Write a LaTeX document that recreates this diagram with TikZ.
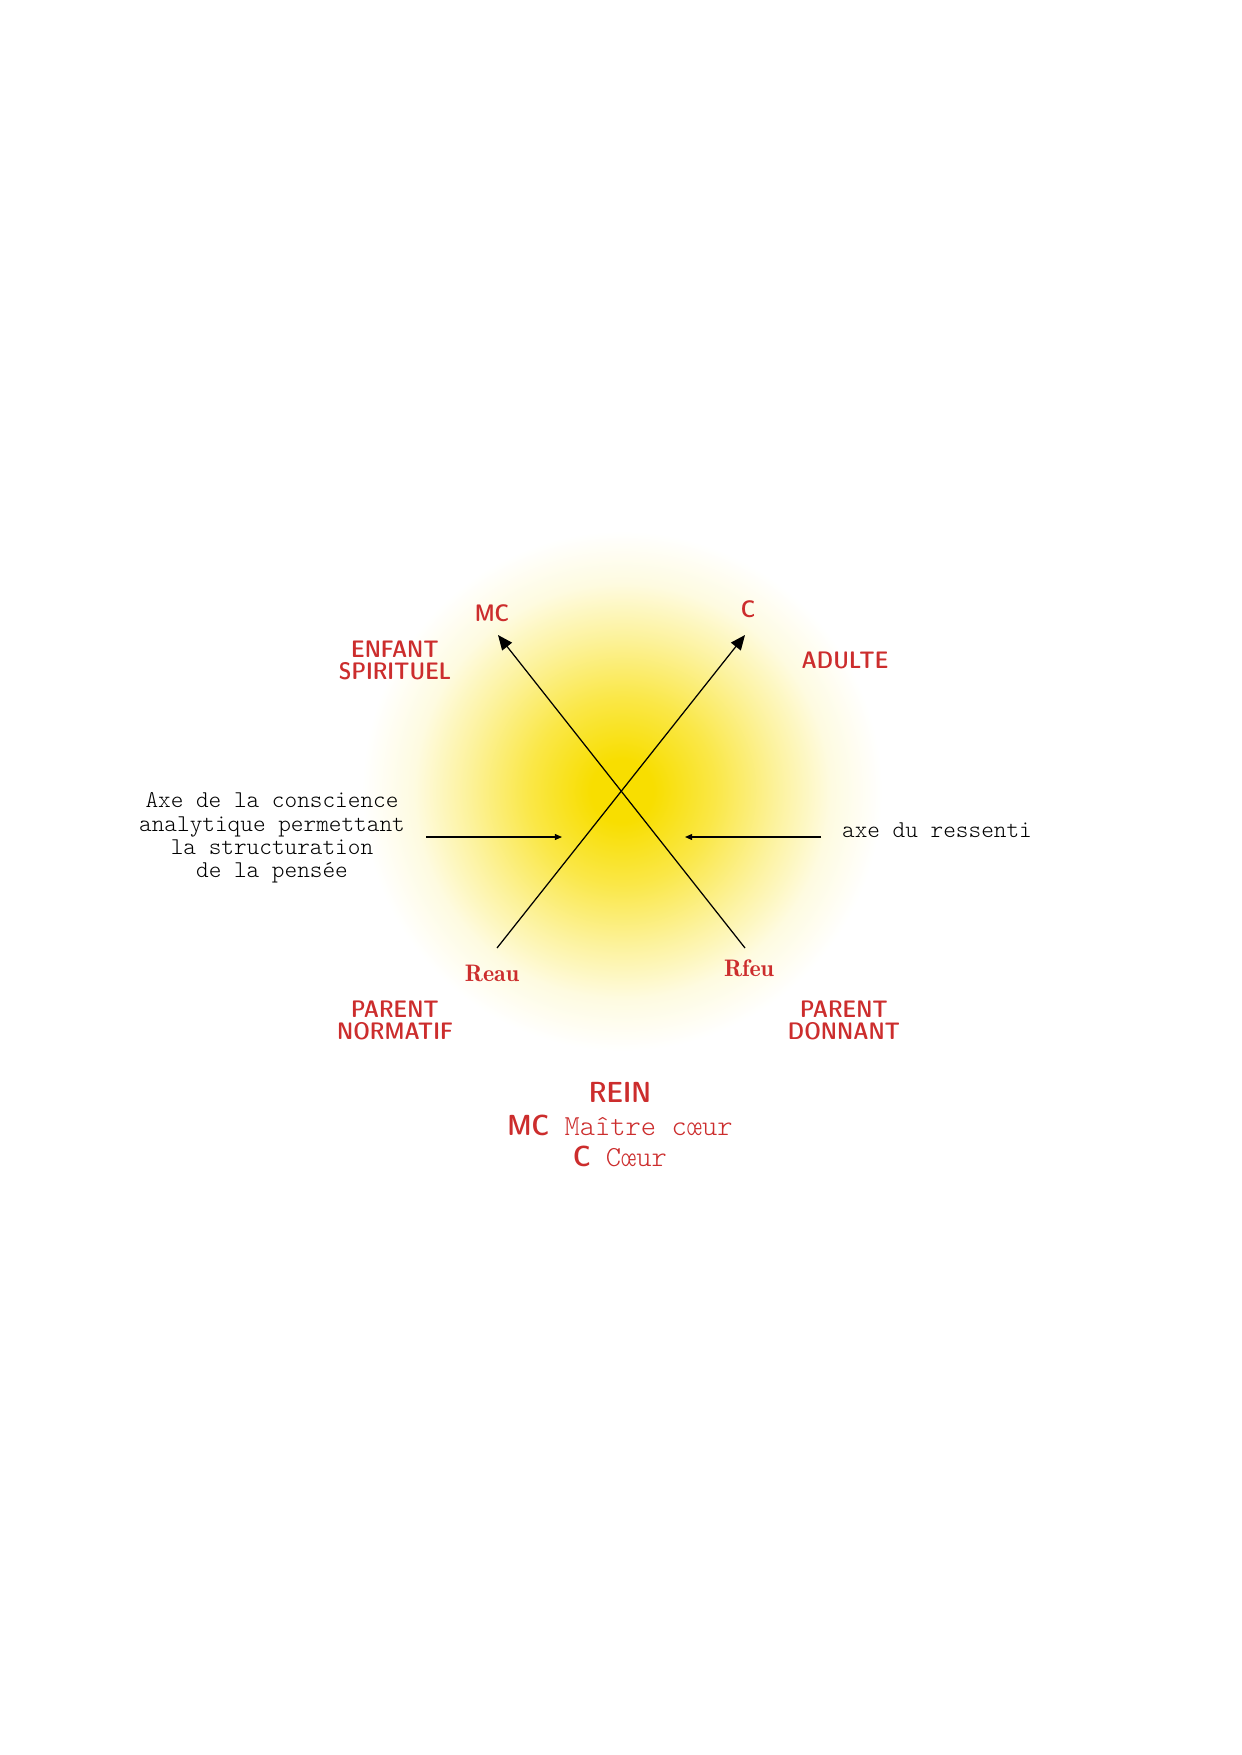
\documentclass[tikz,border=0pt]{standalone}
\usetikzlibrary{arrows.meta}
\definecolor{labred}{RGB}{204,45,45}
\definecolor{sun}{RGB}{248,222,0}
\pgfdeclareradialshading{glow}{\pgfpoint{0bp}{0bp}}{color(0bp)=(sun); color(3bp)=(sun); color(9bp)=(sun!72!white); color(15bp)=(sun!38!white); color(20bp)=(sun!12!white); color(25bp)=(white); color(50bp)=(white)}
\newcommand{\labfont}{\usefont{TU}{lmss}{sbc}{n}}
\newcommand{\monofont}{\usefont{TU}{lmtt}{l}{n}}
\newcommand{\resfont}{\usefont{TU}{lmr}{b}{n}}

\begin{document}
\begin{tikzpicture}[x=0.01692cm,y=-0.01692cm]
      \fill[white] (0,0) rectangle (1241,1755);
      \shade[shading=glow] (622,791) circle (260);
      \begin{scope}[every node/.style={text=labred,align=center,inner sep=1pt,font=\fontsize{11.5}{10.6}\selectfont\labfont}]
        \node (MC) at (492,613) {MC};
        \node (C) at (748,609) {C};
        \node (enfant) at (395,660) {ENFANT\\SPIRITUEL};
        \node (adulte) at (845,660) {ADULTE};
        \node (pnorm) at (395,1020) {PARENT\\NORMATIF};
        \node (pdon) at (844,1020) {PARENT\\DONNANT};
        \node[font=\fontsize{11.5}{12}\selectfont\resfont] (Reau) at (492,973) {Reau};
        \node[font=\fontsize{11.5}{12}\selectfont\resfont] (Rfeu) at (749,968) {Rfeu};
        \node[font=\fontsize{14}{15}\selectfont\labfont] (rein) at (620,1092) {REIN};
        \node[font=\fontsize{14}{15}\selectfont\monofont] (mcline) at (620,1125) {{\labfont MC} Maître cœur};
        \node[font=\fontsize{14}{15}\selectfont\monofont] (cline) at (620,1156) {{\labfont C} Cœur};
      \end{scope}
      \begin{scope}[every node/.style={align=center,font=\fontsize{11.6}{11.2}\selectfont\monofont}]
        \node (axeg) at (272,838) {Axe de la conscience\\analytique permettant\\la structuration\\de la pensée};
        \node (axed) at (937,830) {axe du ressenti};
      \end{scope}
      \coordinate (eau) at (497,948);
      \coordinate (feu) at (745,948);
      \coordinate (cTip) at (745,635);
      \coordinate (mcTip) at (498,635);
      \coordinate (gauche) at (426,837);
      \coordinate (gTip) at (562,837);
      \coordinate (droite) at (821,837);
      \coordinate (dTip) at (685,837);
      \begin{scope}[every edge/.style={draw,line width=0.6pt}]
        \path (eau) edge[-{Triangle[length=2.5mm,width=2.1mm]}] (cTip);
        \path (feu) edge[-{Triangle[length=2.5mm,width=2.1mm]}] (mcTip);
        \path (gauche) edge[-{Triangle[length=1.2mm,width=1mm]}] (gTip);
        \path (droite) edge[-{Triangle[length=1.2mm,width=1mm]}] (dTip);
      \end{scope}
    \end{tikzpicture}
\end{document}
